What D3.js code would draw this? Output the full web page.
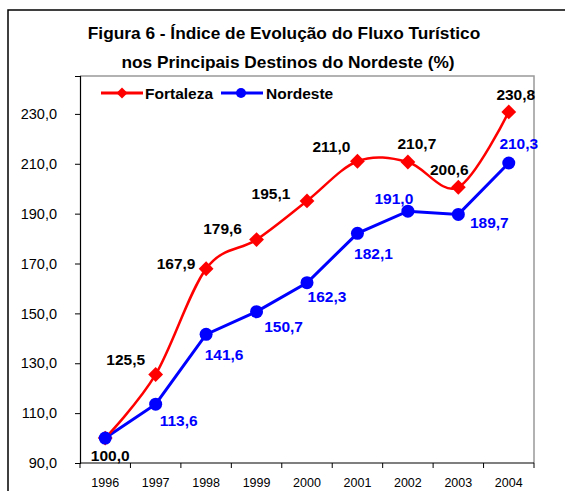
<!DOCTYPE html>
<html>
<head>
<meta charset="utf-8">
<script src="https://cdn.jsdelivr.net/npm/d3@7"></script>
<style>
  body { margin: 0; background: #fff; }
  text { font-family: "Liberation Sans", Arial, sans-serif; }
</style>
</head>
<body>
<script>
// Data
var years = ["1996", "1997", "1998", "1999", "2000", "2001", "2002", "2003", "2004"];
var fortaleza = [100.0, 125.5, 167.9, 179.6, 195.1, 211.0, 210.7, 200.6, 230.8];
var nordeste = [100.0, 113.6, 141.6, 150.7, 162.3, 182.1, 191.0, 189.7, 210.3];
var yTicks = [90, 110, 130, 150, 170, 190, 210, 230];

// where each value label sits relative to its point (dx, dy of text centre)
var fortNudge = [[5, 17], [-30, -15], [-30, -5], [-34, -11], [-36, -8], [-26, -15], [9, -19], [-9, -18], [7, -17]];
var nordNudge = [null, [23, 16], [18, 20], [27, 15], [20, 14], [16, 20], [-14, -13], [31, 8], [10, -20]];

var svg_Width = 565;
var svg_Height = 491;

var plot = { left: 80, right: 534, top: 76, bottom: 463 };

var svg = d3.select("body")
  .append("svg")
  .attr("width", svg_Width)
  .attr("height", svg_Height);

// outer frame (right and bottom are cut off by the picture)
svg.append("path")
  .attr("d", "M8,491 L8,10 L565,10")
  .attr("fill", "none")
  .attr("stroke", "#000")
  .attr("stroke-width", 1.5);

// title
var title = svg.append("text")
  .attr("text-anchor", "middle")
  .style("font-size", "17.3px")
  .style("font-weight", "bold");
title.append("tspan").attr("x", 284).attr("y", 39).text("Figura 6 - Índice de Evolução do Fluxo Turístico");
title.append("tspan").attr("x", 288).attr("y", 68).text("nos Principais Destinos do Nordeste (%)");

var x = d3.scaleBand().domain(years).range([plot.left, plot.right]);
var y = d3.scaleLinear().domain([90, 245.2]).range([plot.bottom, plot.top]);
var cx = function(yr) { return x(yr) + x.bandwidth() / 2; };

// plot area border (grey top/right)
svg.append("path")
  .attr("d", `M${plot.left},${plot.top} L${plot.right},${plot.top} L${plot.right},${plot.bottom}`)
  .attr("fill", "none")
  .attr("stroke", "#999")
  .attr("stroke-width", 1.5);

// y axis
var left_Axis = d3.axisLeft(y)
  .tickValues(yTicks)
  .tickSize(5)
  .tickPadding(18)
  .tickFormat(function(d) { return d3.format(".1f")(d).replace(".", ","); });

var gy = svg.append("g")
  .attr("transform", `translate(${plot.left},0)`)
  .call(left_Axis);
gy.select(".domain").attr("stroke", "#000").attr("stroke-width", 1.2);
gy.selectAll("text").style("font-size", "14.5px").style("font-family", "Liberation Sans, Arial, sans-serif").attr("fill", "#000");

// x axis: ticks between categories
var gx = svg.append("g")
  .attr("transform", `translate(0,${plot.bottom})`);
gx.append("line")
  .attr("x1", plot.left).attr("x2", plot.right)
  .attr("stroke", "#000").attr("stroke-width", 1.2);
gx.selectAll(".tk")
  .data(years.concat(["end"]))
  .enter()
  .append("line")
  .attr("x1", function(d, i) { return plot.left + i * x.step(); })
  .attr("x2", function(d, i) { return plot.left + i * x.step(); })
  .attr("y1", 0).attr("y2", 5)
  .attr("stroke", "#000");
gx.selectAll(".lbl")
  .data(years)
  .enter()
  .append("text")
  .attr("x", cx)
  .attr("y", 24)
  .attr("text-anchor", "middle")
  .style("font-size", "12.5px")
  .text(function(d) { return d; });

// lines
var lineFort = d3.line()
  .x(function(d, i) { return cx(years[i]); })
  .y(function(d) { return y(d); })
  .curve(d3.curveCatmullRom.alpha(0));
var lineNord = d3.line()
  .x(function(d, i) { return cx(years[i]); })
  .y(function(d) { return y(d); });

svg.append("path")
  .attr("d", lineNord(nordeste))
  .attr("fill", "none")
  .attr("stroke", "#0000ff")
  .attr("stroke-width", 3);

svg.append("path")
  .attr("d", lineFort(fortaleza))
  .attr("fill", "none")
  .attr("stroke", "#ff0000")
  .attr("stroke-width", 2.5);

var diamond = d3.symbol().type(d3.symbolSquare).size(110);

svg.selectAll(".fmark")
  .data(fortaleza)
  .enter()
  .append("path")
  .attr("d", diamond)
  .attr("transform", function(d, i) { return `translate(${cx(years[i])},${y(d)}) rotate(45)`; })
  .attr("fill", "#ff0000");

svg.selectAll(".nmark")
  .data(nordeste)
  .enter()
  .append("circle")
  .attr("cx", function(d, i) { return cx(years[i]); })
  .attr("cy", function(d) { return y(d); })
  .attr("r", 6.5)
  .attr("fill", "#0000ff");

var fmt = function(v) { return d3.format(".1f")(v).replace(".", ","); };

// value labels
function addLabels(values, nudge, colour) {
  var rows = values.map(function(v, i) { return { v: v, yr: years[i], n: nudge[i] }; })
    .filter(function(r) { return r.n !== null; });
  svg.append("g").selectAll("text")
    .data(rows)
    .enter()
    .append("text")
    .attr("x", function(r) { return cx(r.yr) + r.n[0]; })
    .attr("y", function(r) { return y(r.v) + r.n[1]; })
    .attr("dy", "0.36em")
    .attr("text-anchor", "middle")
    .style("font-size", "15.5px")
    .style("font-weight", "bold")
    .attr("fill", colour)
    .text(function(r) { return fmt(r.v); });
}
addLabels(fortaleza, fortNudge, "#000");
addLabels(nordeste, nordNudge, "#0000ff");

// legend
var legend = svg.append("g");
legend.append("line").attr("x1", 101).attr("x2", 143).attr("y1", 93).attr("y2", 93)
  .attr("stroke", "#ff0000").attr("stroke-width", 3);
legend.append("path").attr("d", d3.symbol().type(d3.symbolSquare).size(60))
  .attr("transform", "translate(122,93) rotate(45)").attr("fill", "#ff0000");
legend.append("text").attr("x", 145).attr("y", 98.5)
  .style("font-size", "15.5px").style("font-weight", "bold").text("Fortaleza");
legend.append("line").attr("x1", 221).attr("x2", 263).attr("y1", 93).attr("y2", 93)
  .attr("stroke", "#0000ff").attr("stroke-width", 3);
legend.append("circle").attr("cx", 241).attr("cy", 93).attr("r", 5).attr("fill", "#0000ff");
legend.append("text").attr("x", 266).attr("y", 98.5)
  .style("font-size", "15.5px").style("font-weight", "bold").text("Nordeste");
</script>
</body>
</html>
